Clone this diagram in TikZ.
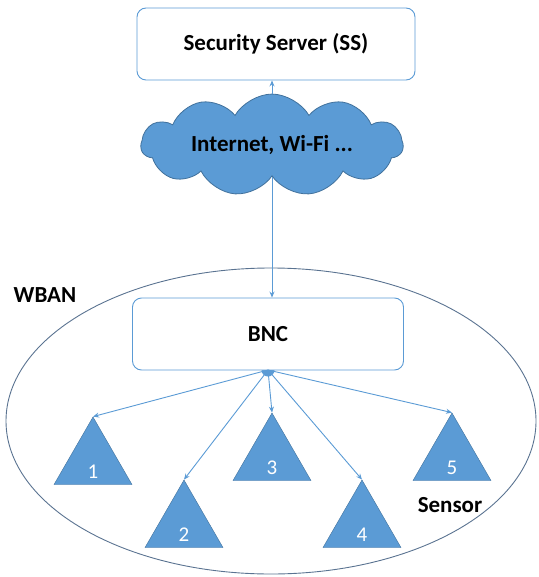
\documentclass[tikz,border=0pt]{standalone}
\usepackage{fontspec}
\setmainfont{Carlito}
\usetikzlibrary{shapes.geometric, shapes.symbols, arrows.meta, positioning}
\definecolor{myblue}{RGB}{91,155,213}
\definecolor{myedge}{RGB}{65,113,156}
\definecolor{myring}{RGB}{90,115,145}
\tikzset{
  box/.style={rectangle, draw=myblue, fill=white, minimum height=72pt, rounded corners=9pt,
    line width=0.9pt, font=\fontsize{23}{27}\selectfont\bfseries},
  arrow/.style={-{Stealth[length=6pt,width=5pt]}, line width=0.9pt, color=myblue},
  lbl/.style={font=\fontsize{23}{27}\selectfont\bfseries}
}
\begin{document}
\begin{tikzpicture}[x=1pt, y=-1pt,
  sensor/.style={regular polygon, regular polygon sides=3, minimum size=90pt, inner sep=0pt,
    fill=myblue, draw=myedge, line width=0.4pt},
  num/.style={text=white, yshift=-10pt, font=\fontsize{21}{25}\selectfont},
  net/.style={cloud, cloud puffs=11, cloud puff arc=120, aspect=3.4, inner sep=0pt, draw=myedge, fill=myblue,
    line width=0.8pt, minimum width=262pt, minimum height=74pt, font=\fontsize{23}{27}\selectfont\bfseries}
]
\useasboundingbox (0,0) rectangle (538,577);

% WBAN area
\node[ellipse, draw=myring, line width=0.9pt, minimum width=530pt, minimum height=306pt] (wban) at (271,421) {};
\node[lbl] (wbanlbl) at (45,295) {WBAN};

\node[box, minimum width=278pt] (ss) at (276,44) {Security Server (SS)};
\node[net] (cloud) at (272,145) {Internet, Wi-Fi ...};
\node[circle, fill=myblue, inner sep=0pt, minimum size=13pt] (hub) at (268,370) {};
\node[box, minimum width=271pt] (bnc) at (268,334) {BNC};

% sensors
\node[sensor, label={[num]center:1}] (s1) at (93,462) {};
\node[sensor, label={[num]center:2}] (s2) at (184,525) {};
\node[sensor, label={[num]center:3}] (s3) at (272,458) {};
\node[sensor, label={[num]center:4}] (s4) at (362,525) {};
\node[sensor, label={[num]center:5}] (s5) at (452,458) {};
\node[lbl] (sensorlbl) at (450,505) {Sensor};

\draw[arrow] (cloud.north) -- (cloud.north |- ss.south);
\draw[arrow] (cloud.south) -- (cloud.south |- bnc.north);
\draw[arrow] (hub.center) -- (s1.corner 1);
\draw[arrow] (hub.center) -- (s2.corner 1);
\draw[arrow] (hub.center) -- (s3.corner 1);
\draw[arrow] (hub.center) -- (s4.corner 1);
\draw[arrow] (hub.center) -- (s5.corner 1);
\end{tikzpicture}
\end{document}
